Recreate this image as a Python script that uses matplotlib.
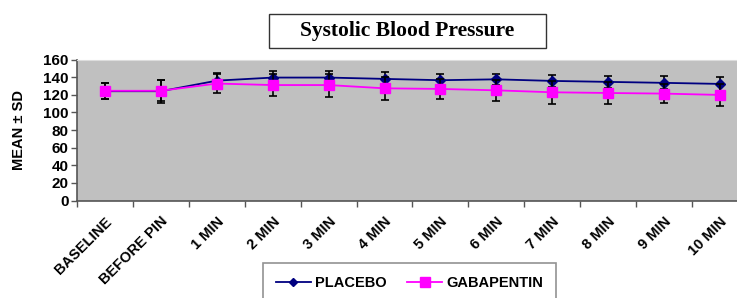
"""
Systolic blood pressure over time: placebo vs gabapentin (mean +/- SD)
"""

import numpy as np
import matplotlib
matplotlib.use("Agg")
import matplotlib.pyplot as plt
from matplotlib.patches import Rectangle
from matplotlib.lines import Line2D

time_points = ["BASELINE", "BEFORE PIN", "1 MIN", "2 MIN", "3 MIN", "4 MIN",
               "5 MIN", "6 MIN", "7 MIN", "8 MIN", "9 MIN", "10 MIN"]

placebo_mean = [124, 124, 136, 139.5, 139.5, 138, 136.5, 137.5, 135.7, 134.6, 133.5, 132.3]
placebo_sd = [9, 13, 9, 7, 7, 7.5, 7, 6, 7, 7, 7.5, 8]

gaba_mean = [124.5, 124.5, 132.7, 131, 131, 127.3, 126.6, 125, 122.8, 122, 121.3, 119.8]
gaba_sd = [9, 12, 11, 12, 13, 13, 11, 12, 13, 12.5, 10.5, 12]

PLACEBO_COL = "#000080"
GABA_COL = "#ff00ff"
FONT = "Liberation Sans"

W, H = 737, 298
fig = plt.figure(figsize=(W / 100, H / 100), dpi=100)
fig.patch.set_facecolor("white")

# plot area in pixels (right side is cut off in the original)
left, right, top, bottom = 77, 748, 59.5, 200.5
ax = fig.add_axes([left / W, 1 - bottom / H, (right - left) / W, (bottom - top) / H])
ax.set_facecolor("#c0c0c0")

x = np.arange(len(time_points))

ax.errorbar(x, placebo_mean, yerr=placebo_sd, color=PLACEBO_COL, lw=1.3,
            marker="D", markersize=5, mfc=PLACEBO_COL, mec=PLACEBO_COL,
            ecolor="black", elinewidth=1.2, capsize=3, capthick=1.2, zorder=3)
ax.errorbar(x, gaba_mean, yerr=gaba_sd, color=GABA_COL, lw=1.3,
            marker="s", markersize=7, mfc=GABA_COL, mec=GABA_COL,
            ecolor="black", elinewidth=1.2, capsize=3, capthick=1.2, zorder=4)

ax.set_xlim(-0.5, len(time_points) - 0.5)
ax.set_ylim(0, 160)
ax.set_yticks(range(0, 161, 20))
ax.tick_params(axis="y", labelsize=11, length=4, width=1, color="#555555", pad=2)
for lbl in ax.get_yticklabels():
    lbl.set_fontweight("bold")
    lbl.set_family(FONT)

ax.set_xticks(x)
ax.set_xticklabels(time_points, rotation=45, ha="right", rotation_mode="anchor",
                   fontsize=10.5, fontweight="bold", family=FONT)
ax.set_xticks(np.arange(-0.5, len(time_points)), minor=True)
ax.tick_params(axis="x", which="major", length=0, pad=10)
ax.tick_params(axis="x", which="minor", length=4, width=1, color="#555555")

ax.set_ylabel("MEAN ± SD", fontsize=10.5, fontweight="bold", family=FONT)
ax.yaxis.set_label_coords((26 - left) / (right - left), 0.5)

for side in ["left", "bottom"]:
    ax.spines[side].set_color("#555555")
    ax.spines[side].set_linewidth(1.2)
ax.spines["top"].set_color("#dddddd")
ax.spines["right"].set_visible(False)

# title box
fig.patches.append(Rectangle((269 / W, 1 - 48 / H), (546 - 269) / W, 34 / H,
                             transform=fig.transFigure, facecolor="white",
                             edgecolor="#333333", lw=1))
fig.text(407 / W, 1 - 31 / H, "Systolic Blood Pressure", ha="center", va="center",
         fontsize=15.5, fontweight="bold", family="Liberation Serif")

handles = [
    Line2D([], [], color=PLACEBO_COL, lw=1.3, marker="D", markersize=4,
           mfc=PLACEBO_COL, mec=PLACEBO_COL),
    Line2D([], [], color=GABA_COL, lw=1.3, marker="s", markersize=7,
           mfc=GABA_COL, mec=GABA_COL),
]
leg = fig.legend(handles, ["PLACEBO", "GABAPENTIN"], loc="upper center",
                 bbox_to_anchor=(409.5 / W, 1 - 263 / H),
                 ncol=2, frameon=True, fancybox=False, edgecolor="#777777",
                 prop={"family": FONT, "weight": "bold", "size": 10.5},
                 handlelength=2.4, columnspacing=1.4, borderpad=0.9,
                 handletextpad=0.3, borderaxespad=0)
leg.get_frame().set_linewidth(1.2)

fig.savefig("out.png", dpi=100)
